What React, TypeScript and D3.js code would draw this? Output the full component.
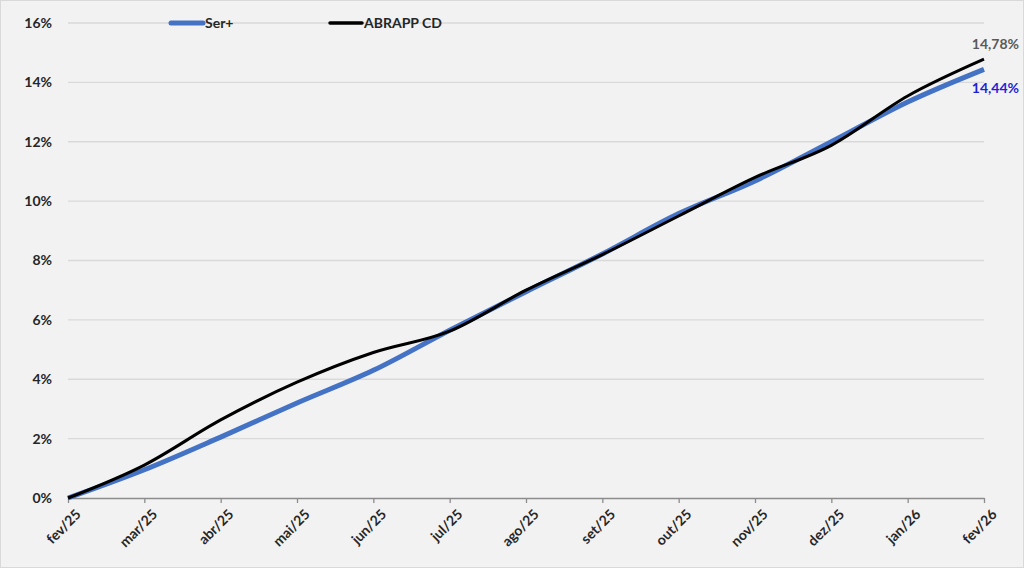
import { useEffect, useRef } from "react";
import * as d3 from "d3";

const WIDTH = 1024;
const HEIGHT = 568;
const TOP = 23;
const BOTTOM = 70;
const LEFT = 68;
const RIGHT = 40;

const MONTHS = [
  "fev/25", "mar/25", "abr/25", "mai/25", "jun/25", "jul/25", "ago/25",
  "set/25", "out/25", "nov/25", "dez/25", "jan/26", "fev/26",
];
const SER_PLUS = [0, 0.95, 2.05, 3.2, 4.3, 5.65, 6.95, 8.22, 9.58, 10.68, 12.0, 13.34, 14.44];
const ABRAPP_CD = [0, 1.11, 2.63, 3.9, 4.9, 5.62, 7.0, 8.2, 9.5, 10.8, 11.88, 13.54, 14.78];
const Y_TICKS = [0, 2, 4, 6, 8, 10, 12, 14, 16];

const FONT = "Lato, 'Open Sans', sans-serif";
const FS = 14;

const App = () => {
  const svgRef = useRef<SVGSVGElement>(null);

  useEffect(() => {
    document.body.style.margin = "0";
    const svg = d3.select(svgRef.current);
    svg.selectAll("*").remove();

    svg.append("rect")
      .attr("x", 0.5).attr("y", 0.5)
      .attr("width", WIDTH - 1).attr("height", HEIGHT - 1)
      .attr("fill", "#f2f2f2")
      .attr("stroke", "#d9d9d9");

    const x = d3.scalePoint<string>().domain(MONTHS).range([LEFT, WIDTH - RIGHT]);
    const y = d3.scaleLinear([0, 16], [HEIGHT - BOTTOM, TOP]);

    // grade
    svg.append("g")
      .selectAll("line")
      .data(Y_TICKS.filter(d => d > 0))
      .join("line")
      .attr("x1", LEFT).attr("x2", WIDTH - RIGHT)
      .attr("y1", d => y(d)).attr("y2", d => y(d))
      .attr("stroke", "#d9d9d9")
      .attr("stroke-width", 1.3);

    // eixo y
    const gy = svg.append("g")
      .attr("transform", `translate(${LEFT}, 0)`)
      .call(d3.axisLeft(y).tickValues(Y_TICKS).tickSize(0).tickPadding(16).tickFormat(d => `${d}%`));
    gy.select(".domain").remove();
    gy.selectAll("text")
      .attr("font-family", FONT)
      .attr("font-weight", "bold")
      .attr("font-size", FS)
      .attr("fill", "#262626");

    // eixo x
    const gx = svg.append("g")
      .attr("transform", `translate(0, ${HEIGHT - BOTTOM})`)
      .call(d3.axisBottom(x).tickSizeInner(5).tickSizeOuter(0).tickPadding(4));
    gx.select(".domain").attr("stroke", "#8c8c8c").attr("stroke-width", 1.3);
    gx.selectAll(".tick line").attr("stroke", "#8c8c8c").attr("stroke-width", 1.3);
    gx.selectAll("text")
      .attr("font-family", FONT)
      .attr("font-weight", "bold")
      .attr("font-size", FS)
      .attr("fill", "#262626")
      .attr("text-anchor", "end")
      .attr("dy", "0.3em")
      .attr("transform", "translate(4, 8) rotate(-45)");

    const line = d3.line<number>()
      .x((_, i) => x(MONTHS[i])!)
      .y(d => y(d))
      .curve(d3.curveMonotoneX);

    svg.append("path")
      .attr("d", line(SER_PLUS))
      .attr("fill", "none")
      .attr("stroke", "#4472c4")
      .attr("stroke-width", 5)
      .attr("stroke-linejoin", "round");

    svg.append("path")
      .attr("d", line(ABRAPP_CD))
      .attr("fill", "none")
      .attr("stroke", "#000000")
      .attr("stroke-width", 3)
      .attr("stroke-linejoin", "round");

    // rótulos finais
    const last = MONTHS.length - 1;
    svg.append("text")
      .attr("x", 1019).attr("y", y(ABRAPP_CD[last]) - 10)
      .attr("text-anchor", "end")
      .attr("font-family", FONT).attr("font-weight", "bold").attr("font-size", FS)
      .attr("fill", "#595959")
      .text(`${d3.format(".2f")(ABRAPP_CD[last]).replace(".", ",")}%`);
    svg.append("text")
      .attr("x", 1019).attr("y", y(SER_PLUS[last]) + 24)
      .attr("text-anchor", "end")
      .attr("font-family", FONT).attr("font-weight", "bold").attr("font-size", FS)
      .attr("fill", "#1f1fd6")
      .text(`${d3.format(".2f")(SER_PLUS[last]).replace(".", ",")}%`);

    // legenda
    const legend = [
      { name: "Ser+", color: "#4472c4", w: 5, x0: 171 },
      { name: "ABRAPP CD", color: "#000000", w: 3.5, x0: 330 },
    ];
    const lg = svg.append("g").selectAll("g").data(legend).join("g")
      .attr("transform", d => `translate(${d.x0}, ${TOP})`);
    lg.append("line")
      .attr("x1", 0).attr("x2", 32)
      .attr("stroke", d => d.color)
      .attr("stroke-width", d => d.w)
      .attr("stroke-linecap", "round");
    lg.append("text")
      .attr("x", 34).attr("dy", "0.35em")
      .attr("font-family", FONT).attr("font-weight", "bold").attr("font-size", FS)
      .attr("fill", "#262626")
      .text(d => d.name);
  }, []);

  return (
    <svg ref={svgRef} width={WIDTH} height={HEIGHT} style={{ position: "absolute", left: 0, top: 0, display: "block" }} />
  );
};

export default App;
